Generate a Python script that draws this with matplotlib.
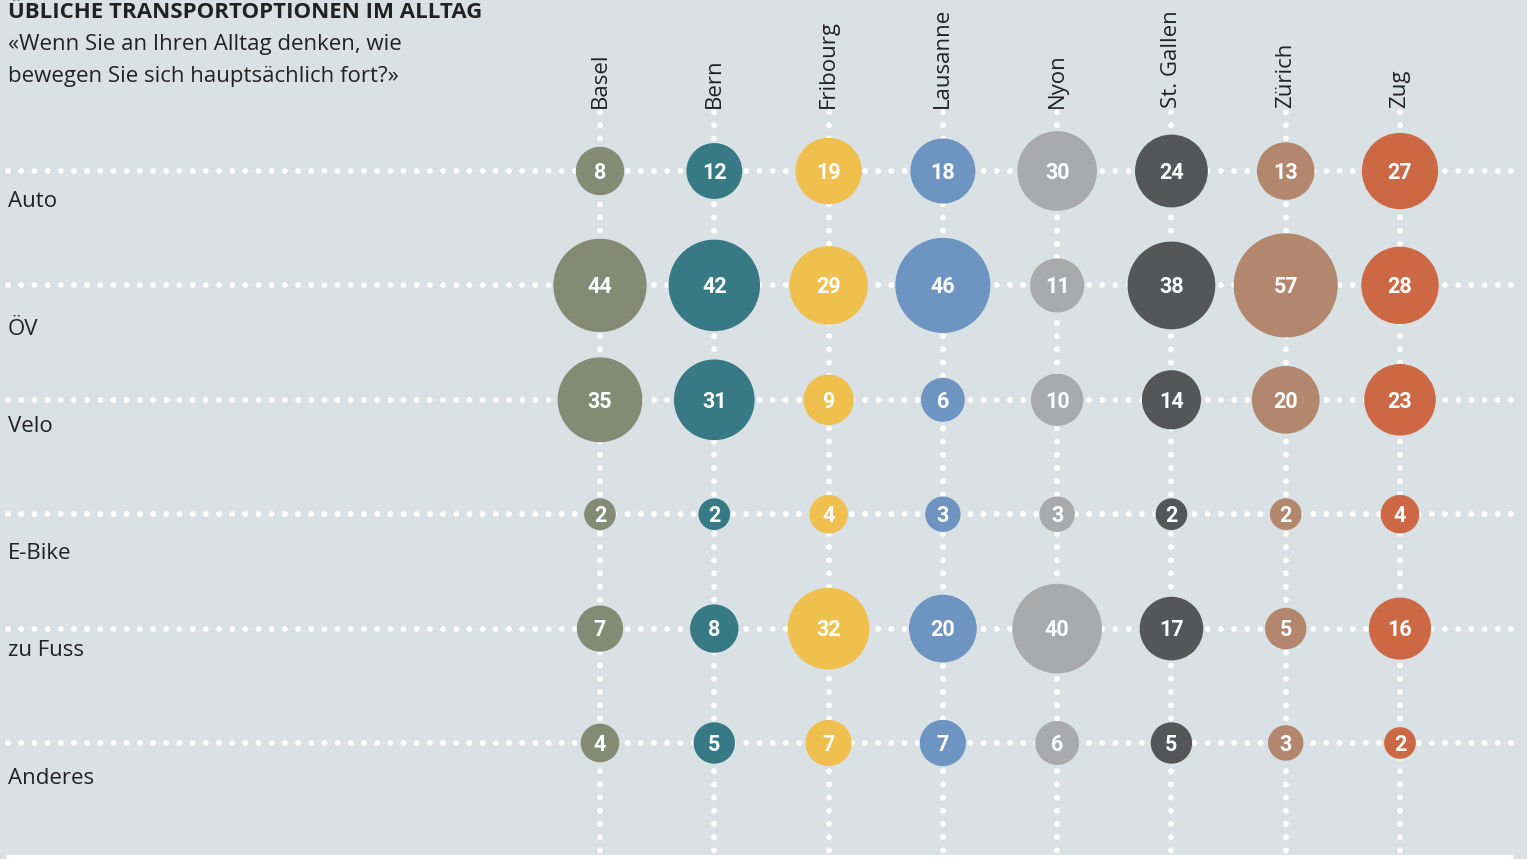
import numpy as np
import matplotlib.pyplot as plt
from matplotlib.patches import Rectangle

cities = ["Basel", "Bern", "Fribourg", "Lausanne", "Nyon", "St. Gallen", "Zürich", "Zug"]
modes = ["Auto", "ÖV", "Velo", "E-Bike", "zu Fuss", "Anderes"]

# share in percent, one list per transport mode (order = cities)
auto = [8, 12, 19, 18, 30, 24, 13, 27]
oev = [44, 42, 29, 46, 11, 38, 57, 28]
velo = [35, 31, 9, 6, 10, 14, 20, 23]
ebike = [2, 2, 4, 3, 3, 2, 2, 4]
fuss = [7, 8, 32, 20, 40, 17, 5, 16]
anderes = [4, 5, 7, 7, 6, 5, 3, 2]

colors = ["#848a74", "#377a85", "#f0c04f", "#6e94c1",
          "#a9aaab", "#555658", "#b3876e", "#cc6944"]

title = "ÜBLICHE TRANSPORTOPTIONEN IM ALLTAG"
subtitle = ["«Wenn Sie an Ihren Alltag denken, wie",
            "bewegen Sie sich hauptsächlich fort?»"]

# label offsets below each row line (row units)
label_offsets = [0.27, 0.385, 0.23, 0.34, 0.19, 0.31]

BG = "#dae1e4"
FONT = "Open Sans"
INK = "#222222"

W, H, DPI = 1527, 859, 100
fig = plt.figure(figsize=(W / DPI, H / DPI), dpi=DPI, facecolor=BG)
ax = fig.add_axes([0, 0, 1, 1], facecolor=BG)

# grid geometry in pixels -> axis limits
x0_px, dx_px = 600, 800 / 7
y0_px, dy_px = 171, 114.4
ax.set_xlim(-x0_px / dx_px, (W - x0_px) / dx_px)
ax.set_ylim((H - y0_px) / dy_px, -y0_px / dy_px)
ax.axis("off")

values = np.array([auto, oev, velo, ebike, fuss, anderes])
ncol = len(cities)
nrow = len(modes)

dot_style = dict(color="white", lw=4.2, solid_capstyle="round",
                 dash_capstyle="round", linestyle=(0, (0.01, 2.25)), zorder=1)

# horizontal dotted lines
xl = ((8 - x0_px) / dx_px, (1515 - x0_px) / dx_px)
for r in range(nrow):
    ax.plot(xl, [r, r], **dot_style)

# vertical dotted lines
yl = ((112 - y0_px) / dy_px, (H + 5 - y0_px) / dy_px)
for c in range(ncol):
    ax.plot([c, c], yl, **dot_style)

# bubbles
for r in range(nrow):
    for c in range(ncol):
        v = values[r, c]
        d_px = 15 + 11.8 * np.sqrt(v)
        s = (d_px * 72 / DPI) ** 2
        ax.scatter(c, r, s=s, color=colors[c], edgecolors="none", zorder=3)
        ax.text(c, r + 0.015, str(v), ha="center", va="center", color="white",
                fontsize=15.5, fontweight="bold", family="Roboto", zorder=4)

# row labels
for r, m in enumerate(modes):
    ax.text((8 - x0_px) / dx_px, r + label_offsets[r], m, ha="left", va="center",
            fontsize=16, color=INK, family=FONT)

# city labels
for c, city in enumerate(cities):
    ax.text(c, (108 - y0_px) / dy_px, city, rotation=90, ha="center", va="bottom",
            fontsize=16, color=INK, family=FONT)

fig.text(8 / W, 1 - 18 / H, title, ha="left", va="baseline", fontsize=16,
         fontweight="bold", color=INK, family=FONT)
for i, line in enumerate(subtitle):
    fig.text(8 / W, 1 - (50 + 32 * i) / H, line, ha="left", va="baseline",
             fontsize=16, color=INK, family=FONT)

fig.add_artist(Rectangle((7 / W, 0), (1512 - 7) / W, 4 / H,
                         transform=fig.transFigure, color="white", zorder=5))

fig.savefig("out.png", dpi=DPI, facecolor=BG)
